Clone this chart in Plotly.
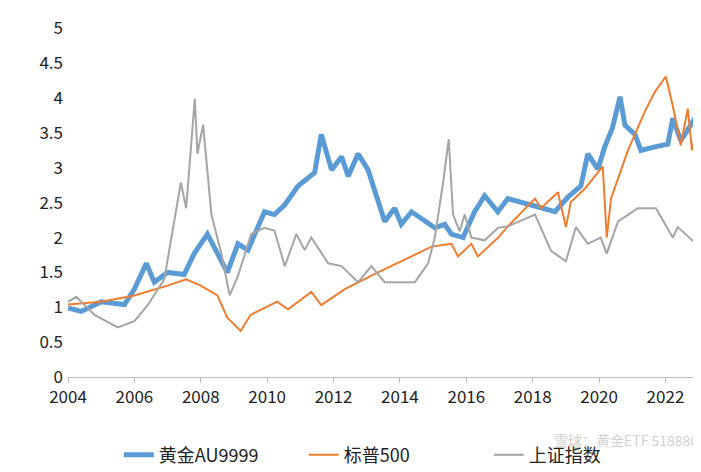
import plotly.graph_objects as go

gold_x = [2004,2004.4,2005.0,2005.7,2006.0,2006.36,2006.6,2007.0,2007.5,2007.8,2008.2,2008.5,2008.8,2009.12,2009.42,2009.92,2010.22,2010.53,
          2010.93,2011.43,2011.63,2011.94,2012.24,2012.44,2012.74,2013.04,2013.34,2013.54,2013.84,2014.04,2014.35,2014.75,2015.05,2015.35,2015.55,2015.9,2016.25,2016.55,
          2016.95,2017.25,2018.67,2019.06,2019.45,2019.66,2019.96,2020.17,2020.4,2020.63,2020.78,2021.08,2021.26,2021.68,2022.07,2022.22,2022.46,2022.89,2023.13]
gold_y = [0.99,0.94,1.08,1.04,1.26,1.63,1.36,1.5,1.47,1.77,2.05,1.77,1.5,1.91,1.82,2.37,2.33,2.47,
          2.74,2.93,3.48,2.97,3.16,2.88,3.2,2.97,2.51,2.23,2.42,2.19,2.37,2.23,2.14,2.19,2.05,2.0,2.37,2.6,
          2.37,2.56,2.37,2.58,2.74,3.2,2.98,3.3,3.57,4.02,3.61,3.48,3.25,3.3,3.34,3.71,3.39,3.71,3.81]
spx_x = [2004,2005,2006,2007,2007.56,2008.0,2008.5,2008.8,2009.2,2009.5,2010.3,2010.63,2011.33,2011.63,2012.34,2013.34,2014.35,2014.95,2015.55,2015.75,2016.15,2016.35,
         2016.96,2017.25,2018.07,2018.25,2018.76,2019.0,2019.15,2019.57,2020.11,2020.23,2020.36,2020.87,2021.38,2021.68,2022.01,2022.22,2022.46,2022.67,2022.8,2022.98,2023.13]
spx_y = [1.04,1.08,1.17,1.31,1.4,1.31,1.17,0.85,0.66,0.89,1.08,0.97,1.22,1.03,1.26,1.5,1.73,1.87,1.91,1.73,1.91,1.73,
         2.0,2.16,2.56,2.42,2.65,2.15,2.51,2.7,3.02,2.0,2.56,3.25,3.81,4.09,4.31,3.89,3.32,3.85,3.25,3.67,3.48]
sh_x = [2004,2004.25,2004.8,2005.5,2006.0,2006.4,2006.9,2007.1,2007.4,2007.56,2007.82,2007.9,2008.07,2008.32,2008.62,2008.87,2009.12,2009.52,2009.92,2010.22,2010.53,
        2010.88,2011.13,2011.33,2011.84,2012.24,2012.74,2013.14,2013.54,2014.14,2014.45,2014.85,2015.05,2015.3,2015.47,2015.6,2015.8,2015.95,2016.15,2016.55,
        2016.96,2017.25,2018.07,2018.55,2019.0,2019.3,2019.66,2020.05,2020.23,2020.57,2021.17,2021.71,2022.22,2022.37,2022.83,2023.13]
sh_y = [1.08,1.15,0.89,0.71,0.8,1.03,1.4,1.96,2.79,2.42,3.99,3.2,3.62,2.33,1.77,1.17,1.45,2.05,2.14,2.1,1.59,
        2.05,1.82,2.0,1.63,1.59,1.36,1.59,1.36,1.36,1.36,1.63,2.0,2.79,3.41,2.33,2.09,2.33,2.0,1.96,
        2.14,2.16,2.33,1.81,1.66,2.15,1.91,2.0,1.77,2.23,2.42,2.42,2.0,2.15,1.95,2.16]
x_ticks = list(range(2004, 2023, 2))
y_ticks = [0,0.5,1,1.5,2,2.5,3,3.5,4,4.5,5]

fig = go.Figure()
fig.add_trace(go.Scatter(x=gold_x, y=gold_y, mode="lines", name="黄金AU9999", line=dict(color="#5b9bd5", width=5)))
fig.add_trace(go.Scatter(x=spx_x, y=spx_y, mode="lines", name="标普500", line=dict(color="#ed7d31", width=2)))
fig.add_trace(go.Scatter(x=sh_x, y=sh_y, mode="lines", name="上证指数", line=dict(color="#a5a5a5", width=2)))
fig.update_layout(
    width=701, height=472, paper_bgcolor="white", plot_bgcolor="white",
    margin=dict(l=60, r=6, t=15, b=94),
    font=dict(family="Noto Sans CJK SC", size=17, color="#222"),
    legend=dict(orientation="h", x=0.08, xanchor="left", y=-0.17, yanchor="top", font=dict(size=18),
                entrywidth=140, entrywidthmode="pixels"),
    xaxis=dict(range=[2004, 2023.13], tickvals=x_ticks, showgrid=False, showline=True, linecolor="#bbb", ticks="outside", tickcolor="#bbb"),
    yaxis=dict(range=[0, 5.02], tickvals=y_ticks, showgrid=False, zeroline=False, ticklabelstandoff=4),
)
fig.add_annotation(x=0.995, y=-0.215, xref="paper", yref="paper", text="雪球：黄金ETF 518880", showarrow=False, xanchor="right", font=dict(size=14, color="rgba(175,175,175,0.6)"))
fig.write_html("out.html")
